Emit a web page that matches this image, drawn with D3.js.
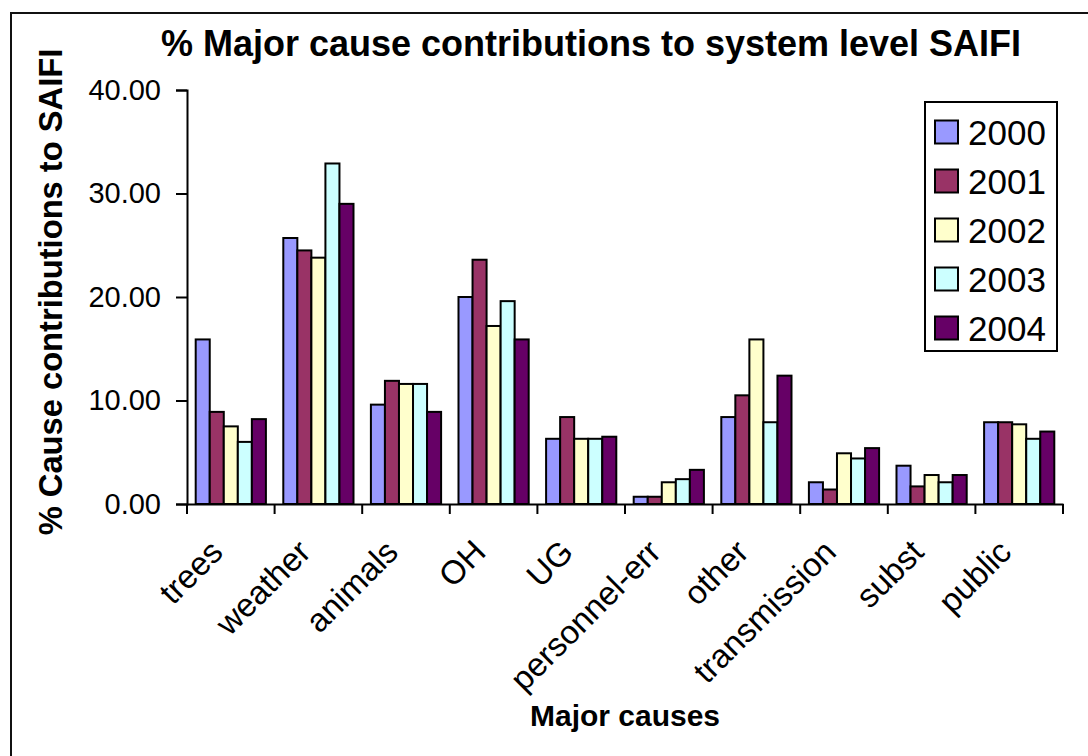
<!DOCTYPE html>
<html>
<head>
<meta charset="utf-8">
<script src="https://cdn.jsdelivr.net/npm/d3@7"></script>
<style>
  html, body { margin: 0; padding: 0; background: #fff; }
  svg { display: block; font-family: "Liberation Sans", Arial, sans-serif; }
</style>
</head>
<body>
<svg id="chart" width="1088" height="756"></svg>
<script>
// Major causes of interruptions and their % contribution to SAIFI, by year
const causes = ["trees", "weather", "animals", "OH", "UG", "personnel-err", "other", "transmission", "subst", "public"];
const years = ["2000", "2001", "2002", "2003", "2004"];
const v2000 = [15.9, 25.7, 9.6, 20.0, 6.3, 0.7, 8.4, 2.1, 3.7, 7.9];
const v2001 = [8.9, 24.5, 11.9, 23.6, 8.4, 0.7, 10.5, 1.4, 1.7, 7.9];
const v2002 = [7.5, 23.8, 11.6, 17.2, 6.3, 2.1, 15.9, 4.9, 2.8, 7.7];
const v2003 = [6.0, 32.9, 11.6, 19.6, 6.3, 2.4, 7.9, 4.4, 2.1, 6.3];
const v2004 = [8.2, 29.0, 8.9, 15.9, 6.5, 3.3, 12.4, 5.4, 2.8, 7.0];
const yTicks = [0, 10, 20, 30, 40];
const colors = ["#9999ff", "#993366", "#ffffcc", "#ccffff", "#660066"];

const seriesValues = [v2000, v2001, v2002, v2003, v2004];

const svg = d3.select("#chart");

// outer chart frame
svg.append("rect")
  .attr("x", 11).attr("y", 13)
  .attr("width", 1100).attr("height", 800)
  .attr("fill", "none").attr("stroke", "#111").attr("stroke-width", 2);

const plot = { left: 187, right: 1063, top: 90, bottom: 504 };

const x0 = d3.scaleBand().domain(causes).range([plot.left, plot.right]).padding(0);
const gap = 8.7;
const x1 = d3.scaleBand().domain(years).range([gap, x0.bandwidth() - gap]).padding(0);
const y = d3.scaleLinear().domain([0, 40]).range([plot.bottom, plot.top]);

// bars
const groups = svg.append("g").selectAll("g")
  .data(causes)
  .join("g")
  .attr("transform", d => `translate(${x0(d)},0)`);

groups.selectAll("rect")
  .data((c, i) => years.map((yr, k) => ({ year: yr, k, value: seriesValues[k][i] })))
  .join("rect")
  .attr("x", d => x1(d.year))
  .attr("y", d => y(d.value))
  .attr("width", x1.bandwidth())
  .attr("height", d => y(0) - y(d.value))
  .attr("fill", d => colors[d.k])
  .attr("stroke", "#000")
  .attr("stroke-width", 2);

// y axis
const yAxis = svg.append("g")
  .attr("transform", `translate(${plot.left},0)`)
  .call(d3.axisLeft(y).tickValues(yTicks).tickFormat(d3.format(".2f")).tickSize(11).tickPadding(15));
yAxis.select(".domain").attr("stroke", "#000").attr("stroke-width", 2);
yAxis.selectAll(".tick line").attr("stroke", "#000").attr("stroke-width", 2);
yAxis.selectAll(".tick text")
  .attr("font-size", 29).attr("fill", "#000")
  .attr("font-family", "'Liberation Sans', Arial, sans-serif");

// x axis with ticks at category boundaries
const xAxis = svg.append("g")
  .attr("transform", `translate(0,${plot.bottom})`)
  .call(d3.axisBottom(x0).tickSize(0).tickFormat(""));
xAxis.select(".domain").attr("stroke", "#000").attr("stroke-width", 2);
xAxis.selectAll(".tick").remove();
const bounds = causes.map(c => x0(c)).concat([plot.right]);
xAxis.selectAll("line.bound")
  .data(bounds)
  .join("line")
  .attr("class", "bound")
  .attr("x1", d => d).attr("x2", d => d)
  .attr("y1", 0).attr("y2", 10)
  .attr("stroke", "#000").attr("stroke-width", 2);

// rotated category labels
svg.append("g").selectAll("text")
  .data(causes)
  .join("text")
  .attr("transform", d => `translate(${x0(d) + x0.bandwidth() / 2 - 6},${plot.bottom + 50}) rotate(-45)`)
  .attr("text-anchor", "end")
  .attr("font-size", 33)
  .attr("fill", "#000")
  .text(d => d);

// title
svg.append("text")
  .attr("x", 591).attr("y", 56)
  .attr("text-anchor", "middle")
  .attr("font-size", 36).attr("font-weight", "bold")
  .text("% Major cause contributions to system level SAIFI");

// axis titles
svg.append("text")
  .attr("transform", `translate(62,292) rotate(-90)`)
  .attr("text-anchor", "middle")
  .attr("font-size", 32.7).attr("font-weight", "bold")
  .text("% Cause contributions to SAIFI");

svg.append("text")
  .attr("x", 625).attr("y", 726)
  .attr("text-anchor", "middle")
  .attr("font-size", 30).attr("font-weight", "bold")
  .text("Major causes");

// legend
const legend = svg.append("g");
legend.append("rect")
  .attr("x", 925).attr("y", 102).attr("width", 132).attr("height", 249)
  .attr("fill", "#fff").attr("stroke", "#000").attr("stroke-width", 2);
const items = legend.selectAll("g.item")
  .data(years)
  .join("g")
  .attr("class", "item")
  .attr("transform", (d, i) => `translate(935,${132 + i * 49})`);
items.append("rect")
  .attr("x", 0).attr("y", -11.5).attr("width", 23).attr("height", 23)
  .attr("fill", (d, i) => colors[i]).attr("stroke", "#000").attr("stroke-width", 2);
items.append("text")
  .attr("x", 33).attr("y", 12.5)
  .attr("font-size", 35)
  .text(d => d);
</script>
</body>
</html>
